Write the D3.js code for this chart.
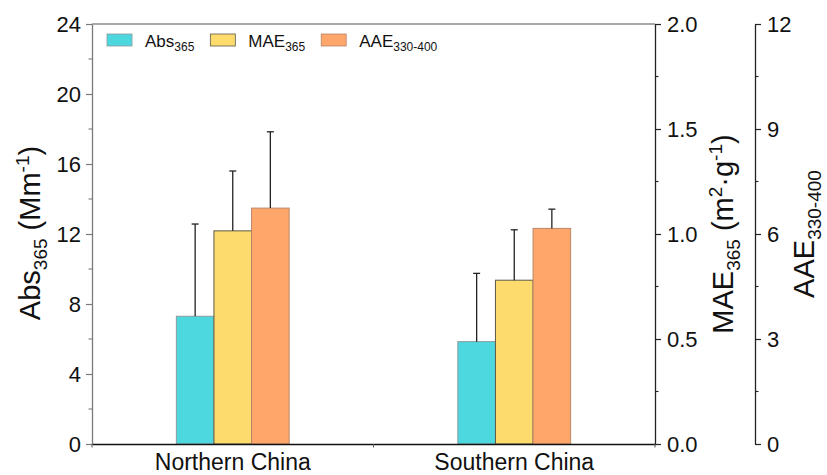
<!DOCTYPE html>
<html><head><meta charset="utf-8">
<script src="https://cdn.jsdelivr.net/npm/d3@7"></script>
<style>
html,body{margin:0;padding:0;background:#fff;}
svg text{font-family:"Liberation Sans",Arial,sans-serif;fill:#111;}
</style></head>
<body><svg id="chart" width="827" height="475"></svg>
<script>
const categories = ["Northern China", "Southern China"];
const seriesNames = ["Abs", "MAE", "AAE"];
const absMean = [7.3, 5.85];
const absErr = [5.27, 3.9];
const maeMean = [1.015, 0.78];
const maeErr = [0.285, 0.24];
const aaeMean = [6.74, 6.16];
const aaeErr = [2.18, 0.55];
const absTicks = [0, 4, 8, 12, 16, 20, 24];
const maeTicks = [0.0, 0.5, 1.0, 1.5, 2.0];
const aaeTicks = [0, 3, 6, 9, 12];

const svg = d3.select("#chart");
const L = 92, R = 655, T = 24, B = 444;
const fills = ["#4dd7df", "#fddb6c", "#ffa66b"];
const strokes = ["#8c9a9c", "#5e5a48", "#b9866a"];

const x = d3.scaleBand().domain(categories).range([L, R]).paddingInner(0).paddingOuter(0);
const yAbs = d3.scaleLinear().domain([0, 24]).range([B, T]);
const yMae = d3.scaleLinear().domain([0, 2]).range([B, T]);
const yAae = d3.scaleLinear().domain([0, 12]).range([B, T]);
const scales = [yAbs, yMae, yAae];
const means = [absMean, maeMean, aaeMean];
const errs = [absErr, maeErr, aaeErr];

const barW = 37.6;
const sub = d3.scaleBand().domain(seriesNames).range([-barW*1.5, barW*1.5]);

// top frame line
svg.append("line").attr("x1", L).attr("x2", R).attr("y1", T).attr("y2", T)
  .attr("stroke", "#555").attr("stroke-width", 1.2);

// bars
seriesNames.forEach((s, si) => {
  const g = svg.append("g");
  categories.forEach((c, ci) => {
    const cx = x(c) + x.bandwidth()/2 + sub(s);
    const y = scales[si];
    g.append("rect")
      .attr("x", cx).attr("width", sub.bandwidth())
      .attr("y", y(means[si][ci])).attr("height", B - y(means[si][ci]))
      .attr("fill", fills[si]).attr("stroke", strokes[si]).attr("stroke-width", 1);
    const mx = cx + sub.bandwidth()/2;
    const top = y(means[si][ci] + errs[si][ci]);
    g.append("line").attr("x1", mx).attr("x2", mx)
      .attr("y1", y(means[si][ci])).attr("y2", top)
      .attr("stroke", "#222").attr("stroke-width", 1.3);
    g.append("line").attr("x1", mx - 3.5).attr("x2", mx + 3.5)
      .attr("y1", top).attr("y2", top)
      .attr("stroke", "#222").attr("stroke-width", 1.3);
  });
});

function styleAxis(g, color) {
  g.selectAll("path").attr("stroke", color).attr("stroke-width", 1.3);
  g.selectAll("line").attr("stroke", color).attr("stroke-width", 1.2);
  g.selectAll("text").attr("font-size", 22).attr("fill", "#111")
    .attr("font-family", "'Liberation Sans', Arial, sans-serif");
}
function minorTicks(scale, vals, xPos, dir, color) {
  svg.append("g").selectAll("line").data(vals).join("line")
    .attr("x1", xPos).attr("x2", xPos + dir*3.5)
    .attr("y1", d => scale(d)).attr("y2", d => scale(d))
    .attr("stroke", color).attr("stroke-width", 1.1);
}

// left axis
const gl = svg.append("g").attr("transform", `translate(${L},0)`)
  .call(d3.axisLeft(yAbs).tickValues(absTicks).tickSize(6).tickPadding(5).tickSizeOuter(0).tickFormat(d3.format("d")));
styleAxis(gl, "#7a7a7a");
minorTicks(yAbs, [2, 6, 10, 14, 18, 22], L, -1, "#7a7a7a");

// right axis (MAE)
const gr = svg.append("g").attr("transform", `translate(${R},0)`)
  .call(d3.axisRight(yMae).tickValues(maeTicks).tickSize(6).tickPadding(6).tickSizeOuter(0).tickFormat(d3.format(".1f")));
styleAxis(gr, "#222");
minorTicks(yMae, [0.25, 0.75, 1.25, 1.75], R, 1, "#222");

// third axis (AAE)
const A3 = 755;
const ga = svg.append("g").attr("transform", `translate(${A3},0)`)
  .call(d3.axisRight(yAae).tickValues(aaeTicks).tickSize(6).tickPadding(6).tickSizeOuter(0).tickFormat(d3.format("d")));
styleAxis(ga, "#222");
minorTicks(yAae, [1.5, 4.5, 7.5, 10.5], A3, 1, "#222");

// bottom axis
const gb = svg.append("g").attr("transform", `translate(0,${B})`)
  .call(d3.axisBottom(x).tickSize(0).tickPadding(10).tickSizeOuter(0));
gb.select("path").attr("stroke", "#111").attr("stroke-width", 1.4);
gb.selectAll("text").attr("font-size", 23).attr("fill", "#111").attr("dy", "0.71em");
// boundary ticks
svg.append("g").selectAll("line").data([L, (L+R)/2, R]).join("line")
  .attr("x1", d => d).attr("x2", d => d).attr("y1", B).attr("y2", B + 3.5)
  .attr("stroke", "#555").attr("stroke-width", 1);

// axis titles
function title(xp, yp, parts) {
  const t = svg.append("text").attr("transform", `translate(${xp},${yp}) rotate(-90)`)
    .attr("text-anchor", "middle").attr("font-size", 29);
  parts.forEach(p => {
    const ts = t.append("tspan").text(p.t);
    if (p.sub) ts.attr("font-size", 19).attr("dy", p.dy);
    else if (p.dy) ts.attr("dy", p.dy);
  });
  return t;
}
title(40, 233, [{t:"Abs"},{t:"365",sub:1,dy:7},{t:" (Mm",dy:-7},{t:"-1",sub:1,dy:-11},{t:")",dy:11}]);
title(733, 234, [{t:"MAE"},{t:"365",sub:1,dy:7},{t:" (m",dy:-7},{t:"2",sub:1,dy:-11},{t:"·g",dy:11},{t:"-1",sub:1,dy:-11},{t:")",dy:11}]);
title(814, 234, [{t:"AAE"},{t:"330-400",sub:1,dy:7}]);

// legend
const legendLabels = [["Abs","365"],["MAE","365"],["AAE","330-400"]];
let lx = 107;
legendLabels.forEach((lab, i) => {
  svg.append("rect").attr("x", lx).attr("y", 34).attr("width", 25).attr("height", 12)
    .attr("fill", fills[i]).attr("stroke", strokes[i]).attr("stroke-width", 0.8);
  const t = svg.append("text").attr("x", lx + 38).attr("y", 46.5).attr("font-size", 17);
  t.append("tspan").text(lab[0]);
  t.append("tspan").text(lab[1]).attr("font-size", 12).attr("dy", 4);
  lx = lx + 38 + t.node().getComputedTextLength() + 16;
});
</script></body></html>
